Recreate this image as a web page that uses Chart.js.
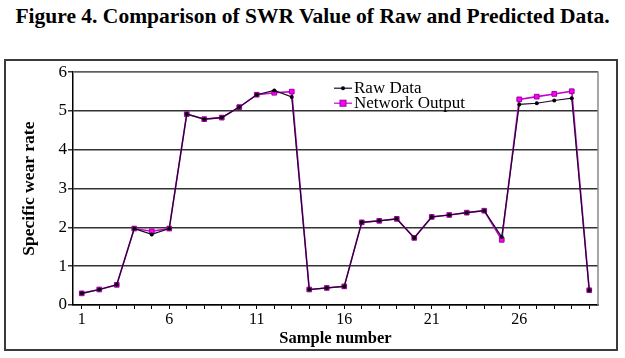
<!DOCTYPE html>
<html>
<head>
<meta charset="utf-8">
<script src="https://cdn.jsdelivr.net/npm/chart.js@4.4.1/dist/chart.umd.min.js"></script>
<style>
  html, body { margin:0; padding:0; background:#fff; }
  body { width:625px; height:358px; position:relative; overflow:hidden; }
  #title {
    position:absolute; left:0; top:4px; width:625px; text-align:center;
    font:bold 21.5px "Liberation Serif", "DejaVu Serif", serif; color:#000;
  }
  #box {
    position:absolute; left:4px; top:59px; width:610px; height:288px;
    border:2px solid #3a3a3a;
  }
  #box canvas { display:block; }
</style>
</head>
<body>
<div id="title">Figure 4. Comparison of SWR Value of Raw and Predicted Data.</div>
<div id="box"><canvas id="chart" width="610" height="288"></canvas></div>
<script>
// sample numbers 1..30
const samples = ['1','2','3','4','5','6','7','8','9','10','11','12','13','14','15',
                 '16','17','18','19','20','21','22','23','24','25','26','27','28','29','30'];
const shownTicks = ['1','6','11','16','21','26'];

const rawData = [0.30, 0.40, 0.52, 1.97, 1.82, 1.97, 4.92, 4.79, 4.83, 5.10,
                 5.42, 5.53, 5.36, 0.40, 0.44, 0.48, 2.13, 2.17, 2.22, 1.73,
                 2.27, 2.32, 2.38, 2.43, 1.75, 5.17, 5.20, 5.27, 5.33, 0.38];
const networkOutput = [0.30, 0.40, 0.52, 1.97, 1.90, 1.97, 4.92, 4.79, 4.83, 5.10,
                       5.42, 5.47, 5.50, 0.40, 0.44, 0.48, 2.13, 2.17, 2.22, 1.73,
                       2.27, 2.32, 2.38, 2.43, 1.68, 5.30, 5.37, 5.44, 5.51, 0.38];

const SERIF = '"Liberation Serif", "DejaVu Serif", serif';

// frame lines on top/right of the plot and the legend inside it
const framePlugin = {
  id: 'frame',
  afterDatasetsDraw(chart) {
    const { ctx, chartArea: a } = chart;
    ctx.save();
    ctx.strokeStyle = '#8a8a8a';
    ctx.lineWidth = 1.5;
    ctx.beginPath();
    ctx.moveTo(a.left, a.top); ctx.lineTo(a.right, a.top); ctx.lineTo(a.right, a.bottom);
    ctx.stroke();

    // legend
    const lx = a.left + 261, ly = a.top + 16;
    chart.data.datasets.forEach((ds, i) => {
      const y = ly + i * 15;
      ctx.strokeStyle = ds.borderColor;
      ctx.lineWidth = 1.2;
      ctx.beginPath(); ctx.moveTo(lx, y); ctx.lineTo(lx + 18, y); ctx.stroke();
      ctx.fillStyle = ds.pointBackgroundColor;
      ctx.strokeStyle = ds.pointBorderColor;
      ctx.lineWidth = 1;
      if (ds.pointStyle === 'rect') {
        ctx.fillRect(lx + 6, y - 3, 6, 6);
        ctx.strokeRect(lx + 6, y - 3, 6, 6);
      } else {
        ctx.beginPath(); ctx.arc(lx + 9, y, 2, 0, Math.PI * 2); ctx.fill();
      }
      ctx.fillStyle = '#000';
      ctx.font = '17px ' + SERIF;
      ctx.textBaseline = 'middle';
      ctx.fillText(ds.label, lx + 20, y);
    });
    ctx.restore();
  }
};

new Chart(document.getElementById('chart').getContext('2d'), {
  type: 'line',
  data: {
    labels: samples,
    datasets: [
      { label:'Raw Data', data: rawData, order: 1,
        borderColor:'#1a0a2a', borderWidth:1.2,
        pointStyle:'circle', pointRadius:2, pointBackgroundColor:'#000', pointBorderColor:'#000',
        pointBorderWidth:0, tension:0 },
      { label:'Network Output', data: networkOutput, order: 2,
        borderColor:'#cc00cc', borderWidth:1.6,
        pointStyle:'rect', pointRadius:3.3, pointBackgroundColor:'#ff00ff', pointBorderColor:'#990099',
        pointBorderWidth:1, tension:0 }
    ]
  },
  options: {
    responsive: false,
    animation: false,
    layout: { padding: { left: 0, right: 18, top: 10, bottom: 0 } },
    plugins: { legend: { display:false }, tooltip: { enabled:false } },
    scales: {
      x: {
        offset: true,
        grid: { display:true, drawOnChartArea:false, drawTicks:true, tickLength:4, color:'#000' },
        border: { color:'#000', width:1.5 },
        ticks: {
          autoSkip:false, maxRotation:0, color:'#000', padding:1,
          font: { family: SERIF, size: 16 },
          callback(v, i) { const l = samples[i]; return shownTicks.includes(l) ? l : ''; }
        },
        title: { display:true, text:'Sample number', color:'#000', padding:{ top:1, bottom:0 },
                 font: { family: SERIF, size: 16.5, weight:'bold' } },
        afterFit(s) { s.height = 44; }
      },
      y: {
        min: 0, max: 6,
        grid: { color:'#333', lineWidth:1.5, tickLength:5 },
        border: { color:'#000', width:1.5 },
        ticks: { stepSize:1, color:'#000', padding:1, font: { family: SERIF, size: 17 } },
        title: { display:true, text:'Specific wear rate', color:'#000', padding:{ top:13, bottom:0 },
                 font: { family: SERIF, size: 17.5, weight:'bold' } },
        afterFit(s) { s.width = 67; }
      }
    }
  },
  plugins: [framePlugin]
});
</script>
</body>
</html>
